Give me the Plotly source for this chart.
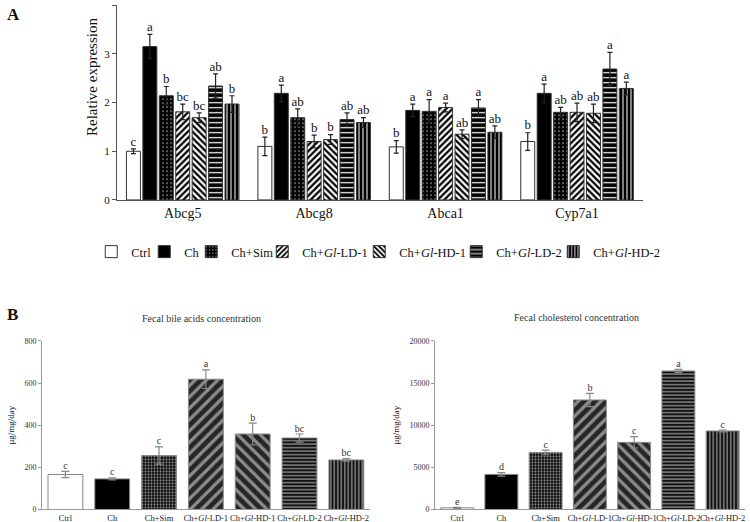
import plotly.graph_objects as go

# ---------------- data ----------------
genes = ["Abcg5", "Abcg8", "Abca1", "Cyp7a1"]
group_labels = ["Ctrl", "Ch", "Ch+Sim", "Ch+<i>Gl</i>-LD-1", "Ch+<i>Gl</i>-HD-1",
                "Ch+<i>Gl</i>-LD-2", "Ch+<i>Gl</i>-HD-2"]

ctrl_expr = [1.00, 1.10, 1.09, 1.20]
ch_expr = [3.15, 2.19, 1.84, 2.19]
sim_expr = [2.14, 1.69, 1.82, 1.80]
ld1_expr = [1.81, 1.20, 1.90, 1.80]
hd1_expr = [1.69, 1.24, 1.35, 1.78]
ld2_expr = [2.34, 1.65, 1.89, 2.69]
hd2_expr = [1.97, 1.59, 1.39, 2.29]

ctrl_err = [0.05, 0.19, 0.13, 0.18]
ch_err = [0.25, 0.17, 0.13, 0.19]
sim_err = [0.19, 0.18, 0.24, 0.10]
ld1_err = [0.16, 0.13, 0.09, 0.19]
hd1_err = [0.10, 0.10, 0.09, 0.19]
ld2_err = [0.25, 0.14, 0.17, 0.34]
hd2_err = [0.17, 0.10, 0.13, 0.13]

ctrl_sig = ["c", "b", "b", "b"]
ch_sig = ["a", "a", "a", "a"]
sim_sig = ["b", "ab", "a", "ab"]
ld1_sig = ["bc", "b", "a", "ab"]
hd1_sig = ["bc", "b", "ab", "ab"]
ld2_sig = ["ab", "ab", "a", "a"]
hd2_sig = ["b", "ab", "ab", "a"]

bile_vals = [166, 145, 256, 618, 358, 339, 235]
bile_err = [15, 5, 41, 44, 52, 19, 6]
bile_sig = ["c", "c", "c", "a", "b", "bc", "bc"]

chol_vals = [200, 4160, 6770, 12990, 7960, 16430, 9310]
chol_err = [60, 200, 280, 790, 670, 200, 110]
chol_sig = ["e", "d", "c", "b", "c", "a", "c"]

# ---------------- styles ----------------
FONT = "Liberation Serif"
styleA = [
    dict(color="white", pattern=dict(shape="")),
    dict(color="black", pattern=dict(shape="")),
    dict(color="black", pattern=dict(shape=".", fillmode="replace", bgcolor="black", fgcolor="white", size=4, solidity=0.08)),
    dict(color="white", pattern=dict(shape="/", fillmode="replace", bgcolor="white", fgcolor="black", size=4.5, solidity=0.5)),
    dict(color="white", pattern=dict(shape="\\", fillmode="replace", bgcolor="white", fgcolor="black", size=4.5, solidity=0.5)),
    dict(color="black", pattern=dict(shape="-", fillmode="replace", bgcolor="black", fgcolor="white", size=5, solidity=0.25)),
    dict(color="black", pattern=dict(shape="|", fillmode="replace", bgcolor="black", fgcolor="white", size=4, solidity=0.25)),
]
legend_widths = [8, 2, 26, 52, 52, 52, 68]

exprs = [ctrl_expr, ch_expr, sim_expr, ld1_expr, hd1_expr, ld2_expr, hd2_expr]
errs = [ctrl_err, ch_err, sim_err, ld1_err, hd1_err, ld2_err, hd2_err]
sigs = [ctrl_sig, ch_sig, sim_sig, ld1_sig, hd1_sig, ld2_sig, hd2_sig]

fig = go.Figure()

for j, lab in enumerate(group_labels):
    st = styleA[j]
    fig.add_trace(go.Bar(
        x=genes, y=exprs[j], name=lab, offsetgroup=str(j),
        marker=dict(color=st["color"], pattern=st["pattern"], line=dict(color="#333", width=1)),
        error_y=dict(type="data", array=errs[j], color="#222", thickness=1.2, width=2.5),
        xaxis="x", yaxis="y", showlegend=True, legendwidth=legend_widths[j],
    ))
for j, lab in enumerate(group_labels):
    fig.add_trace(go.Scatter(
        x=genes, y=[v + e for v, e in zip(exprs[j], errs[j])], text=sigs[j],
        mode="text", textposition="top center", offsetgroup=str(j),
        textfont=dict(family=FONT, size=13, color="#111"),
        xaxis="x", yaxis="y", showlegend=False, cliponaxis=False, hoverinfo="skip",
    ))

# panel B patterns (one style per group)
stylesB = [
    dict(color="white", pattern=dict(shape="")),
    dict(color="black", pattern=dict(shape="")),
    dict(color="black", pattern=dict(shape=".", fillmode="replace", bgcolor="#111", fgcolor="#9a9a9a", size=3, solidity=0.3)),
    dict(color="#222", pattern=dict(shape="/", fillmode="replace", bgcolor="#262626", fgcolor="#8c8c8c", size=8, solidity=0.4)),
    dict(color="#222", pattern=dict(shape="\\", fillmode="replace", bgcolor="#262626", fgcolor="#8c8c8c", size=8, solidity=0.4)),
    dict(color="black", pattern=dict(shape="-", fillmode="replace", bgcolor="#111", fgcolor="#9a9a9a", size=3.5, solidity=0.35)),
    dict(color="black", pattern=dict(shape="|", fillmode="replace", bgcolor="#111", fgcolor="#9a9a9a", size=3.5, solidity=0.35)),
]

for (vals, er, sg, xa, ya) in [(bile_vals, bile_err, bile_sig, "x2", "y2"),
                               (chol_vals, chol_err, chol_sig, "x3", "y3")]:
    for j, lab in enumerate(group_labels):
        st = stylesB[j]
        fig.add_trace(go.Bar(
            x=[lab], y=[vals[j]], offsetgroup="b", name=lab,
            marker=dict(color=st["color"], pattern=st["pattern"], line=dict(color="#888", width=1)),
            error_y=dict(type="data", array=[er[j]], color="#888", thickness=1.2, width=4),
            xaxis=xa, yaxis=ya, showlegend=False,
        ))
    fig.add_trace(go.Scatter(
        x=group_labels, y=[v + e for v, e in zip(vals, er)], text=sg, offsetgroup="b",
        mode="text", textposition="top center",
        textfont=dict(family=FONT, size=10, color="#333"),
        xaxis=xa, yaxis=ya, showlegend=False, cliponaxis=False, hoverinfo="skip",
    ))

axA = dict(showline=True, linecolor="#555", linewidth=1, showgrid=False, zeroline=False,
           automargin=False)
axB = dict(showline=True, linecolor="#999", linewidth=1, showgrid=False, zeroline=False,
           automargin=False)

fig.update_layout(
    width=750, height=522,
    margin=dict(l=0, r=0, t=0, b=0, autoexpand=False),
    paper_bgcolor="white", plot_bgcolor="white",
    font=dict(family=FONT, color="#111"),
    barmode="group", bargap=0.125, bargroupgap=0.15,
    scattermode="group", scattergap=0.125,
    xaxis=dict(domain=[0.156, 0.857], anchor="y", type="category", ticks="",
               tickfont=dict(size=14), **axA),
    yaxis=dict(domain=[0.617, 0.990], anchor="x", range=[0, 4], dtick=1, ticks="outside",
               ticklen=4, tickcolor="#555", tickfont=dict(size=11), **axA),
    xaxis2=dict(domain=[0.056, 0.493], anchor="y2", type="category", ticks="", tickangle=0,
                tickfont=dict(size=8.5, color="#222"), **axB),
    yaxis2=dict(domain=[0.024, 0.347], anchor="x2", range=[0, 800], dtick=200, ticks="outside",
                ticklen=3, tickcolor="#999", tickfont=dict(size=8, color="#333"),
                title=dict(text="μg/mg/day", font=dict(size=9), standoff=8), **axB),
    xaxis3=dict(domain=[0.58, 0.993], anchor="y3", type="category", ticks="", tickangle=0,
                tickfont=dict(size=8.5, color="#222"), **axB),
    yaxis3=dict(domain=[0.024, 0.347], anchor="x3", range=[0, 20000], dtick=5000, ticks="outside",
                ticklen=3, tickcolor="#999", tickformat="d", tickfont=dict(size=8, color="#333"),
                title=dict(text="μg/mg/day", font=dict(size=9), standoff=8), **axB),
    legend=dict(orientation="h", x=0.505, xanchor="center", y=1 - 252 / 522, yanchor="middle",
                font=dict(size=12.5, family=FONT), bgcolor="rgba(0,0,0,0)", itemwidth=30,
                traceorder="normal"),
    annotations=[
        dict(text="<b>A</b>", x=5 / 750, y=1 - 14 / 522, xref="paper", yref="paper",
             showarrow=False, xanchor="left", yanchor="middle", font=dict(size=17, family=FONT)),
        dict(text="<b>B</b>", x=5 / 750, y=1 - 314 / 522, xref="paper", yref="paper",
             showarrow=False, xanchor="left", yanchor="middle", font=dict(size=17, family=FONT)),
        dict(text="Relative expression", x=92 / 750, y=1 - 77 / 522, xref="paper", yref="paper",
             showarrow=False, textangle=-90, xanchor="center", yanchor="middle",
             font=dict(size=15, family=FONT)),
        dict(text="Fecal bile acids concentration", x=201 / 750, y=1 - 318 / 522, xref="paper",
             yref="paper", showarrow=False, xanchor="center", yanchor="middle",
             font=dict(size=10, family=FONT, color="#333")),
        dict(text="Fecal cholesterol concentration", x=576 / 750, y=1 - 317 / 522, xref="paper",
             yref="paper", showarrow=False, xanchor="center", yanchor="middle",
             font=dict(size=10, family=FONT, color="#333")),
    ],
)

fig.write_html("out.html", config={"displayModeBar": False},
               post_script="document.body.style.margin='0px';")
